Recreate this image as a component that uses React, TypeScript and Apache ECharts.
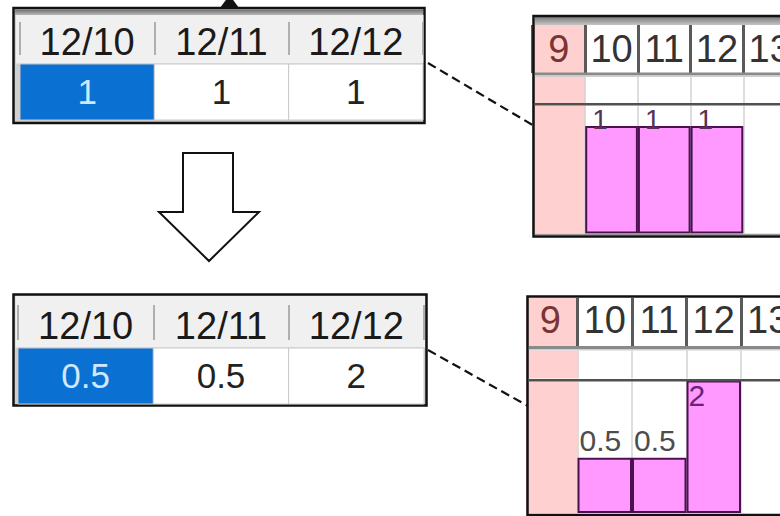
import React, { useEffect, useRef } from 'react';
import * as echarts from 'echarts';

// ---- data ----
const hours = ['9', '10', '11', '12', '13'];
const highlightHour = '9';
const beforeHours: (number | null)[] = [null, 1, 1, 1, null];
const afterHours: (number | null)[] = [null, 0.5, 0.5, 2, null];
const tableDates = ['12/10', '12/11', '12/12'];
const beforeTable = [1, 1, 1];
const afterTable = [0.5, 0.5, 2];
const selectedDateIndex = 0;
const yMax = 1.19;

const FONT = 'Liberation Sans, Arial, sans-serif';
const PINK = '#ffd0d0';
const BLUE = '#0a70d2';

export default function App() {
  const ref = useRef<HTMLDivElement>(null);

  useEffect(() => {
    document.body.style.margin = '0';
    const chart = echarts.init(ref.current!, null, { renderer: 'svg' });

    const grid: any[] = [];
    const xAxis: any[] = [];
    const yAxis: any[] = [];
    const series: any[] = [];

    const add = (g: any, x: any, y: any) => {
      const i = grid.length;
      grid.push({ ...g, containLabel: false, outerBoundsMode: 'none' });
      xAxis.push({ ...x, gridIndex: i });
      yAxis.push({ ...y, gridIndex: i });
      return i;
    };

    // ---- tables ----
    const addTable = (
      values: number[],
      left: number, width: number, top: number, height: number,
      offset: number, tickLen: number, margin: number
    ) => {
      const i = add(
        { left, width, top, height },
        {
          type: 'category', data: tableDates, position: 'top', offset,
          axisLine: { show: false },
          axisTick: { show: true, length: tickLen, lineStyle: { color: '#9a9a9a', width: 1.5 } },
          axisLabel: { interval: 0, margin, verticalAlign: 'middle', fontSize: 38, fontFamily: FONT, color: '#1a1a1a' },
          splitLine: { show: false },
        },
        { type: 'category', data: ['v'], show: false }
      );
      series.push({
        type: 'custom', xAxisIndex: i, yAxisIndex: i,
        encode: { x: 0, y: 1 },
        data: values.map((v, k) => [k, 0, v]),
        renderItem: (params: any, api: any) => {
          const k = api.value(0);
          const c = api.coord([k, 0]);
          const s = api.size([1, 1]);
          const sel = k === selectedDateIndex;
          return {
            type: 'group',
            children: [
              {
                type: 'rect',
                shape: { x: c[0] - s[0] / 2, y: c[1] - s[1] / 2, width: s[0], height: s[1] },
                style: { fill: sel ? BLUE : '#ffffff', stroke: '#c8c8c8', lineWidth: 1 },
              },
              {
                type: 'text', x: c[0], y: c[1] - 1,
                style: {
                  text: String(api.value(2)), fontSize: 35, fontFamily: FONT,
                  fill: sel ? '#cfe8ff' : '#222222', align: 'center', verticalAlign: 'middle',
                },
              },
            ],
          };
        },
      });
    };
    addTable(beforeTable, 20, 403, 64, 56, 9, 33, 13.5);
    addTable(afterTable, 18, 406, 348, 56, 8, 35, 14.5);

    // ---- charts ----
    const areaColors = hours.map((h) => (h === highlightHour ? PINK : '#ffffff'));
    const lightSplit = { show: true, interval: 0, lineStyle: { color: '#d2d2d2', width: 1.5 } };

    const addChart = (
      values: (number | null)[],
      left: number, width: number,
      header: [number, number], row: [number, number], plot: [number, number],
      headerMargin: number,
      lab: { dx: number; dy: number; size: number; color: string },
      over: { dx: number; dy: number; color: string }
    ) => {
      add(
        { left, width, top: header[0], height: header[1] - header[0] },
        {
          type: 'category', data: hours, position: 'bottom',
          axisLine: { show: false }, axisTick: { show: false },
          axisLabel: {
            inside: true, interval: 0, margin: headerMargin, verticalAlign: 'middle',
            fontSize: 38, fontFamily: FONT,
            color: (v: string) => (v === highlightHour ? '#7a3434' : '#333333'),
          },
          splitLine: { show: true, interval: 0, lineStyle: { color: '#5a5a5a', width: 3 } },
          splitArea: { show: true, interval: 0, areaStyle: { color: areaColors } },
        },
        { type: 'value', min: 0, max: 1, show: false }
      );
      add(
        { left, width, top: row[0], height: row[1] - row[0] },
        {
          type: 'category', data: hours,
          axisLine: { show: false }, axisTick: { show: false }, axisLabel: { show: false },
          splitLine: lightSplit,
          splitArea: { show: true, interval: 0, areaStyle: { color: areaColors } },
        },
        { type: 'value', min: 0, max: 1, show: false }
      );
      const p = add(
        { left, width, top: plot[0], height: plot[1] - plot[0] },
        {
          type: 'category', data: hours,
          axisLine: { show: false }, axisTick: { show: false }, axisLabel: { show: false },
          splitLine: lightSplit,
          splitArea: { show: true, interval: 0, areaStyle: { color: areaColors } },
        },
        { type: 'value', min: 0, max: yMax, show: false }
      );
      series.push({
        type: 'bar', xAxisIndex: p, yAxisIndex: p,
        barCategoryGap: '0%', clip: true, z: 3,
        itemStyle: { color: '#ff99ff', borderColor: '#4a1050', borderWidth: 2 },
        label: {
          show: true, position: [lab.dx, lab.dy], align: 'left', verticalAlign: 'middle',
          fontSize: lab.size, fontFamily: FONT, color: lab.color,
        },
        emphasis: { disabled: true },
        data: values.map((v) =>
          v == null
            ? null
            : v > yMax
            ? { value: v, label: { position: [over.dx, over.dy], color: over.color } }
            : v
        ),
      });
    };

    addChart(beforeHours, 532.5, 263.5, [25, 73], [77, 103], [105.5, 233.5], 24.5,
      { dx: 7, dy: -6, size: 28, color: '#553355' }, { dx: 2, dy: 15, color: '#6b2277' });
    addChart(afterHours, 523, 272.5, [298, 346], [350.5, 378.5], [381.5, 513], 26,
      { dx: 2, dy: -17.5, size: 30, color: '#4d4d4d' }, { dx: 2, dy: 15, color: '#6b2277' });

    const band = (y0: string, y1: string) => ({
      type: 'linear', x: 0, y: 0, x2: 0, y2: 1,
      colorStops: [{ offset: 0, color: y0 }, { offset: 1, color: y1 }],
    });

    const graphic: any[] = [
      // table 1 frame
      { type: 'rect', z: -2, shape: { x: 13.5, y: 8, width: 411, height: 115 }, style: { fill: '#d0d0d0', stroke: '#111', lineWidth: 2.5 } },
      { type: 'rect', z: -1, shape: { x: 15, y: 9.5, width: 408, height: 5.5 }, style: { fill: band('#6f6f6f', '#b8b8b8') } },
      { type: 'rect', z: -1, shape: { x: 16, y: 15, width: 407.5, height: 48.5 }, style: { fill: '#f0f0f0' } },
      // table 2 frame
      { type: 'rect', z: -2, shape: { x: 13.5, y: 294.5, width: 413, height: 111 }, style: { fill: '#d0d0d0', stroke: '#111', lineWidth: 2.5 } },
      { type: 'rect', z: -1, shape: { x: 15.5, y: 296, width: 409.5, height: 51.5 }, style: { fill: '#f0f0f0' } },
      // chart 1 frame
      { type: 'rect', z: 49, shape: { x: 535, y: 17, width: 260, height: 8 }, style: { fill: band('#7c7c7c', '#c4c4c4') } },
      { type: 'rect', z: 49, shape: { x: 535, y: 72.5, width: 260, height: 3 }, style: { fill: '#8a8a8a' } },
      { type: 'rect', z: 49, shape: { x: 535, y: 75.5, width: 260, height: 1.5 }, style: { fill: '#cfcfcf' } },
      { type: 'line', z: 49, shape: { x1: 535, y1: 104.3, x2: 800, y2: 104.3 }, style: { stroke: '#505050', lineWidth: 2.5 } },
      { type: 'line', z: 49, shape: { x1: 535, y1: 234.5, x2: 800, y2: 234.5 }, style: { stroke: '#9a9a9a', lineWidth: 1.5 } },
      { type: 'rect', z: 50, shape: { x: 533.5, y: 16, width: 300, height: 220.5 }, style: { fill: null, stroke: '#111', lineWidth: 2.5 } },
      // chart 2 frame
      { type: 'rect', z: 45, shape: { x: 500, y: 290, width: 26, height: 230 }, style: { fill: '#ffffff' } },
      { type: 'rect', z: 49, shape: { x: 529, y: 346, width: 260, height: 3 }, style: { fill: '#8a8a8a' } },
      { type: 'rect', z: 49, shape: { x: 529, y: 349, width: 260, height: 1.5 }, style: { fill: '#cfcfcf' } },
      { type: 'line', z: 49, shape: { x1: 529, y1: 380.3, x2: 800, y2: 380.3 }, style: { stroke: '#505050', lineWidth: 2.5 } },
      { type: 'rect', z: 50, shape: { x: 527.5, y: 296.5, width: 300, height: 218.5 }, style: { fill: null, stroke: '#111', lineWidth: 2.5 } },
      // arrows / connectors
      { type: 'polygon', z: 60, shape: { points: [[220, 8], [239, 8], [229.5, -5]] }, style: { fill: '#111' } },
      { type: 'polygon', z: 60, shape: { points: [[183, 153], [233, 153], [233, 212], [259, 212], [209, 261], [159, 212], [183, 212]] }, style: { fill: '#fff', stroke: '#111', lineWidth: 2 } },
      { type: 'line', z: 60, shape: { x1: 428, y1: 63, x2: 536, y2: 127 }, style: { stroke: '#111', lineWidth: 2.2, lineDash: [9, 5] } },
      { type: 'line', z: 60, shape: { x1: 428, y1: 350, x2: 528, y2: 406 }, style: { stroke: '#111', lineWidth: 2.2, lineDash: [9, 5] } },
    ];

    chart.setOption({
      animation: false,
      backgroundColor: '#ffffff',
      grid, xAxis, yAxis, series, graphic,
    });

    return () => chart.dispose();
  }, []);

  return <div ref={ref} style={{ width: 780, height: 516 }} />;
}
